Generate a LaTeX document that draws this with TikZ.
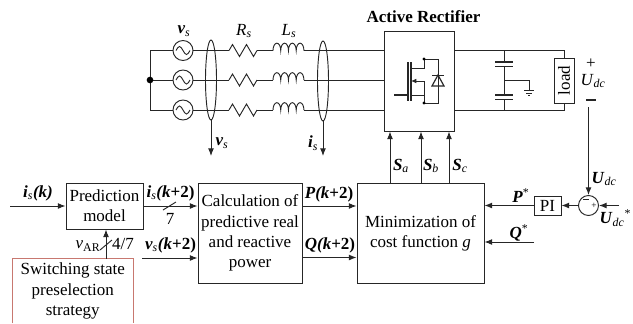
\documentclass[tikz,border=0pt]{standalone}
\usepackage{fontspec}
\setmainfont{Liberation Serif}
\usetikzlibrary{shapes.geometric, arrows.meta, positioning}
\newcommand{\bi}[1]{\textbf{\textit{#1}}}
\newcommand{\sub}[1]{\textsubscript{\textit{#1}}}
\begin{document}
\begin{tikzpicture}[x=0.03cm, y=-0.03cm, line width=0.8pt, draw=black!85,
            font=\fontsize{14.5pt}{17.2pt}\selectfont,
            box/.style={draw, rectangle, align=center, inner sep=0pt},
            lbl/.style={inner sep=0pt},
            src/.style={draw, circle, minimum size=0.6cm, inner sep=0pt},
            bundle/.style={draw, ellipse, minimum width=0.33cm, minimum height=2.4cm, inner sep=0pt},
            pipe/.style={-{Latex[length=6.5pt, width=5pt]}},
            plate/.style={line width=1.6pt}]
            \useasboundingbox (0,0) rectangle (633,323);

            % rows of the source
            \coordinate (row1) at (150,50.5);
            \coordinate (row2) at (150,80);
            \coordinate (row3) at (150,110);

            % source side
            \foreach \i/\y in {1/50.5, 2/80, 3/110} {
                \node[src] (src\i) at (183,\y) {};
                \draw (176,\y) sin (179.5,\y-4) cos (183,\y) sin (186.5,\y+4) cos (190,\y);
                \coordinate (ra\i) at (229,\y);
                \coordinate (rb\i) at (257,\y);
                \coordinate (la\i) at (273,\y);
                \coordinate (lb\i) at (304,\y);
                \draw (row\i) -- (src\i);
                \draw (src\i) -- (ra\i);
                \draw (ra\i) -- ++(3.5,-6) -- ++(7,12) -- ++(7,-12) -- ++(7,12) -- (rb\i);
                \draw (rb\i) -- (la\i);
                \draw (la\i) foreach \k in {1,...,4} {arc[start angle=180, end angle=0, x radius=0.116cm, y radius=0.22cm]};
                \draw (lb\i) -- (row\i -| 384,0);
            }
            \draw (row1) -- (row3);
            \fill (row2) circle[radius=0.1cm];

            \node[bundle] (vbundle) at (211,80) {};
            \node[bundle] (ibundle) at (323,81) {};
            \coordinate (vsout) at (211,156);
            \coordinate (isout) at (323,156);
            \draw[pipe] (vbundle.south) -- (vsout);
            \draw[pipe] (ibundle.south) -- (isout);

            \node[lbl] (vslabel) at (184,31) {\bi{v}\sub{s}};
            \node[lbl] (rslabel) at (244,31) {\textit{R}\sub{s}};
            \node[lbl] (lslabel) at (289,31) {\textit{L}\sub{s}};
            \node[lbl] (vsdown) at (222,143) {\bi{v}\sub{s}};
            \node[lbl] (isdown) at (313,143) {\bi{i}\sub{s}};

            % rectifier
            \node[lbl] (title) at (423.5,17) {\textbf{Active Rectifier}};
            \node[box, minimum width=2.1cm, minimum height=3cm, fill=white] (rect) at (419,81) {};

            % switch symbol
            \draw[line width=1.3pt] (394,95) -- (408,95);
            \draw[line width=1.3pt] (408,62) -- (408,101);
            \draw[line width=1.3pt] (411,62) -- (411,101);
            \draw (411,68) -- (424,68) -- (424,59) -- (438,59) -- (438,103) -- (424,103) -- (424,95) -- (411,95);
            \draw[-{Latex[length=4.5pt, width=4pt]}] (424,95) -- (424,81) -- (411,81);
            \fill (424,59) circle[radius=0.05cm];
            \fill (424,103) circle[radius=0.05cm];
            \draw (432,75) -- (444,75);
            \draw[line width=1pt] (438,75) -- (432,86) -- (444,86) -- cycle;

            % dc link
            \node[box, minimum width=0.6cm, minimum height=1.35cm] (load) at (564,80.5) {};
            \node[lbl, rotate=90] (loadtext) at (load.center) {load};
            \draw (rect.east |- row1) -| (load.north);
            \draw (rect.east |- row3) -| (load.south);
            \draw (504,50.5) -- (504,62);
            \draw (504,66) -- (504,95);
            \draw (504,99) -- (504,110);
            \draw[plate] (495,62) -- (513,62);
            \draw[plate] (495,66.5) -- (513,66.5);
            \draw[plate] (495,95) -- (513,95);
            \draw[plate] (495,99.5) -- (513,99.5);
            \draw (504,80) -- (529,80) -- (529,90.5);
            \draw (524,90.5) -- (534,90.5);
            \draw (526,93) -- (532,93);
            \draw (528,95.5) -- (530,95.5);

            \node[lbl] (plus) at (591,64) {+};
            \node[lbl] (udc) at (593,81) {\textit{U}\sub{dc}};
            \draw[line width=1.4pt] (586,100) -- (596,100);

            % control blocks
            \node[box, minimum width=2.31cm, minimum height=1.38cm] (model) at (104.5,206) {Prediction\\model};
            \node[box, minimum width=3.12cm, minimum height=3cm] (calc) at (250,233) {Calculation of\\predictive real\\and reactive\\power};
            \node[box, minimum width=3.81cm, minimum height=3cm] (minbox) at (420.5,233) {Minimization of\\cost function \textit{g}};
            \node[box, minimum width=0.81cm, minimum height=0.57cm] (pi) at (547.5,205.5) {PI};
            \node[draw, circle, minimum size=0.6cm, inner sep=0pt] (sum) at (588.5,205.5) {};
            \node[lbl, font=\footnotesize] (sumplus) at (594,205.5) {+};
            \draw (583,199.5) -- (589,199.5);

            % preselection, cut by the lower edge
            \node[align=center, inner sep=0pt, minimum width=3.615cm, minimum height=1.92cm] (presel) at (72.75,291) {Switching state\\preselection\\strategy};
            \draw[draw={rgb,255:red,200;green,120;blue,112}] (presel.south west) |- (presel.north east) -- (presel.south east);

            % connections
            \coordinate (isin) at (10,206);
            \coordinate (vsin) at (142,258);
            \coordinate (prow) at (0,206);
            \coordinate (qrow) at (0,257.5);
            \coordinate (sa) at (390,183);
            \coordinate (sb) at (421,183);
            \coordinate (sc) at (449,183);
            \coordinate (dcneg) at (588.5,107);
            \coordinate (udcref) at (619,205.5);
            \coordinate (qstar) at (534,242);

            \draw[pipe] (isin) -- (model.west);
            \draw[pipe] (model.east) -- (calc.west |- model.east);
            \draw[pipe] (vsin) -- (calc.west |- vsin);
            \draw[pipe] (presel.north -| 106,0) -- (model.south -| 106,0);
            \draw[pipe] (calc.east |- prow) -- (minbox.west |- prow);
            \draw[pipe] (calc.east |- qrow) -- (minbox.west |- qrow);
            \draw[pipe] (sa) -- (sa |- rect.south);
            \draw[pipe] (sb) -- (sb |- rect.south);
            \draw[pipe] (sc) -- (sc |- rect.south);
            \draw[pipe] (dcneg) -- (sum.north);
            \draw[pipe] (udcref) -- (sum.east);
            \draw[pipe] (sum.west) -- (pi.east);
            \draw[pipe] (pi.west) -- (minbox.east |- pi.west);
            \draw[pipe] (qstar) -- (qstar -| minbox.east);

            % width marks
            \draw (163,210) -- (176,202);
            \draw (100,250) -- (112,240);

            % labels
            \node[lbl] (lisk) at (38,193) {\bi{i}\sub{s}\bi{(k)}};
            \node[lbl] (liskk) at (170.5,193) {\bi{i}\sub{s}\bi{(k}\textbf{+2)}};
            \node[lbl] (lseven) at (170,219) {7};
            \node[lbl] (lvsk) at (170.5,245) {\bi{v}\sub{s}\bi{(k}\textbf{+2)}};
            \node[lbl] (lvar) at (88,246) {\textit{v}\textsubscript{AR}};
            \node[lbl] (lfour) at (123,244) {4/7};
            \node[lbl] (lp) at (329,194) {\bi{P}\bi{(k}\textbf{+2)}};
            \node[lbl] (lq) at (330,245) {\bi{Q}\bi{(k}\textbf{+2)}};
            \node[lbl] (lsa) at (401,166) {\bi{S}\sub{a}};
            \node[lbl] (lsb) at (431,166) {\bi{S}\sub{b}};
            \node[lbl] (lsc) at (460,166) {\bi{S}\sub{c}};
            \node[lbl] (lpstar) at (521,196) {\bi{P}\textsuperscript{*}};
            \node[lbl] (lqstar) at (519,233) {\bi{Q}\textsuperscript{*}};
            \node[lbl] (ludc) at (604,179) {\bi{U}\sub{dc}};
            \node[lbl, anchor=east] (ludcref) at (631.5,218) {\bi{U}\sub{dc}\textsuperscript{*}};
        \end{tikzpicture}
\end{document}
